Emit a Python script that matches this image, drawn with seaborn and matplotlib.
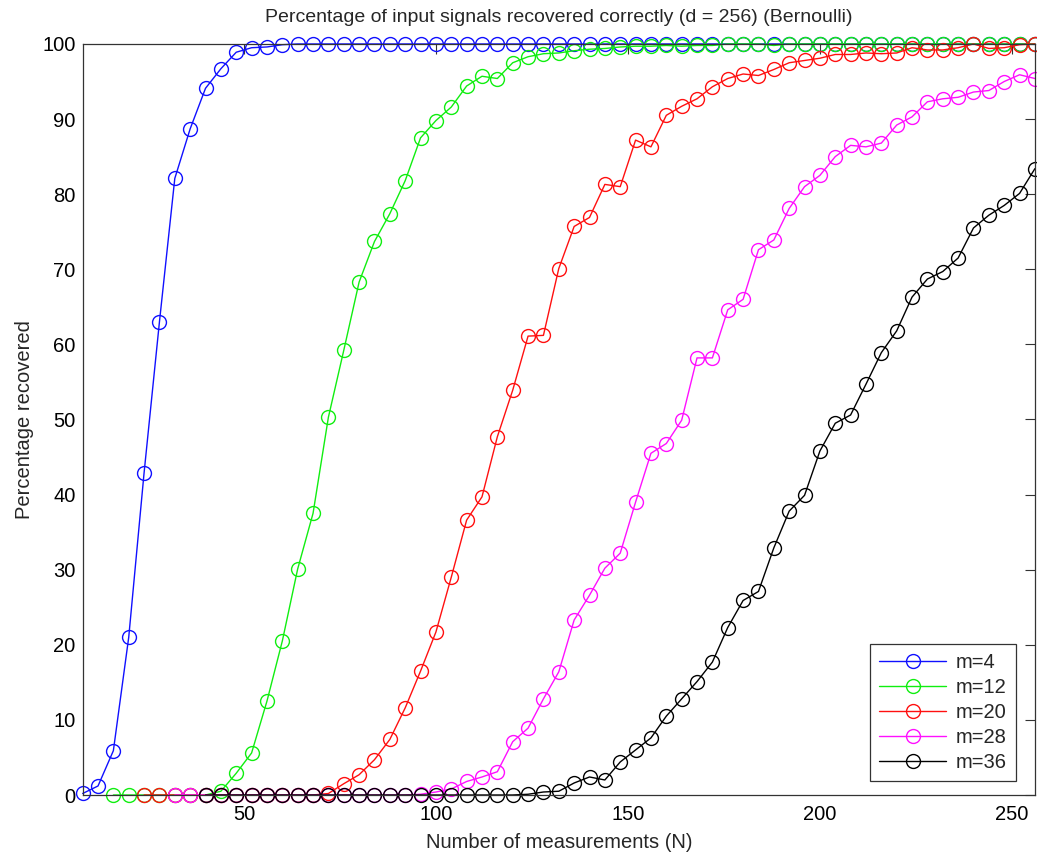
import numpy as np
import pandas as pd
import matplotlib
matplotlib.use("Agg")
import matplotlib.pyplot as plt
import seaborn as sns

# sparsity levels and their measurement grids (N runs from m+4 to 256 in steps of 4)
m_values = [4, 12, 20, 28, 36]
labels = ["m=4", "m=12", "m=20", "m=28", "m=36"]
colors = ["#1010ff", "#10ee10", "#ff1010", "#ff10ff", "#000000"]

pct_m4 = [0.2, 1.2, 5.9, 21.0, 42.9, 63.0, 82.1, 88.7, 94.1, 96.7, 98.9, 99.5, 99.6, 99.9,
          100, 100, 100, 100, 100, 100, 100, 100, 100, 100, 100, 100, 100, 100, 100, 100,
          100, 100, 100, 100, 100, 100, 100, 100, 100, 100, 100, 100, 100, 100, 100, 100,
          100, 100, 100, 100, 100, 100, 100, 100, 100, 100, 100, 100, 100, 100, 100, 100, 100]

pct_m12 = [0, 0, 0, 0, 0, 0, 0, 0.5, 2.9, 5.6, 12.5, 20.5, 30.1, 37.5, 50.3, 59.2, 68.3,
           73.7, 77.4, 81.8, 87.5, 89.8, 91.6, 94.4, 95.7, 95.4, 97.5, 98.3, 98.7, 98.8,
           99.1, 99.3, 99.4, 99.6, 99.7, 99.7, 99.8, 99.7, 99.8, 99.8, 100, 100, 100, 99.8,
           100, 100, 100, 100, 100, 100, 100, 100, 100, 100, 100, 100, 100, 100, 100, 100, 100]

pct_m20 = [0, 0, 0, 0, 0, 0, 0, 0, 0, 0, 0, 0, 0.2, 1.5, 2.7, 4.7, 7.4, 11.6, 16.5, 21.7,
           29.0, 36.6, 39.7, 47.7, 53.9, 61.1, 61.2, 70.1, 75.7, 76.9, 81.3, 81.0, 87.2,
           86.3, 90.5, 91.7, 92.7, 94.3, 95.4, 96.0, 95.8, 96.6, 97.5, 97.8, 98.1, 98.6,
           98.6, 98.8, 98.7, 98.8, 99.5, 99.2, 99.2, 99.5, 100, 99.4, 99.5, 99.9, 100]

pct_m28 = [0, 0, 0, 0, 0, 0, 0, 0, 0, 0, 0, 0, 0, 0, 0, 0, 0.1, 0.4, 0.8, 1.8, 2.4, 3.1,
           7.1, 8.9, 12.8, 16.4, 23.3, 26.6, 30.2, 32.2, 39.0, 45.5, 46.8, 49.9, 58.2, 58.2,
           64.6, 66.0, 72.6, 73.9, 78.1, 81.0, 82.5, 85.0, 86.5, 86.3, 86.8, 89.2, 90.3,
           92.3, 92.7, 92.9, 93.6, 93.8, 95.0, 95.9, 95.4]

pct_m36 = [0, 0, 0, 0, 0, 0, 0, 0, 0, 0, 0, 0, 0, 0, 0, 0, 0, 0, 0, 0, 0, 0.1, 0.4, 0.5,
           1.6, 2.4, 2.0, 4.4, 6.0, 7.6, 10.5, 12.8, 15.1, 17.7, 22.3, 25.9, 27.1, 32.9,
           37.8, 39.9, 45.8, 49.5, 50.6, 54.7, 58.9, 61.8, 66.3, 68.7, 69.7, 71.5, 75.5,
           77.2, 78.5, 80.1, 83.4]

series = [pct_m4, pct_m12, pct_m20, pct_m28, pct_m36]

frames = []
for m, lab, vals in zip(m_values, labels, series):
    n = np.arange(m + 4, 257, 4)
    frames.append(pd.DataFrame({"N": n, "pct": vals, "series": lab}))
df = pd.concat(frames, ignore_index=True)

sns.set_style("white")
plt.rcParams["font.family"] = ["Liberation Sans", "DejaVu Sans"]

fig = plt.figure(figsize=(10.37, 8.52), dpi=100)
ax = fig.add_axes([0.0797, 0.0669, 0.9183, 0.8815])

for lab, col in zip(labels, colors):
    sub = df[df["series"] == lab]
    sns.lineplot(data=sub, x="N", y="pct", ax=ax, color=col, label=lab,
                 marker="o", markersize=10, markerfacecolor="none",
                 markeredgecolor=col, markeredgewidth=1.0, linewidth=1.0,
                 estimator=None, sort=False, clip_on=False)

ax.set_xlim(8, 256)
ax.set_ylim(0, 100)
ax.set_xticks([50, 100, 150, 200, 250])
ax.set_yticks(range(0, 101, 10))
ax.tick_params(direction="in", length=7, width=0.8, top=True, right=True,
               labelsize=14.5, colors="#333333", labelcolor="black")
ax.tick_params(axis="x", pad=7)
ax.tick_params(axis="y", pad=5)
for s in ax.spines.values():
    s.set_visible(True)
    s.set_color("#333333")
    s.set_linewidth(0.9)

ax.set_title("Percentage of input signals recovered correctly (d = 256) (Bernoulli)",
             fontsize=14, pad=16)
ax.set_xlabel("Number of measurements (N)", fontsize=14.5, labelpad=7)
ax.set_ylabel("Percentage recovered", fontsize=14.5, labelpad=6)

leg = ax.legend(loc="lower right", bbox_to_anchor=(0.98, 0.0186), borderaxespad=0,
                fontsize=14.5, handlelength=3.3, labelspacing=0.3, fancybox=False,
                framealpha=1, edgecolor="#333333", borderpad=0.45, handletextpad=0.5)
leg.get_frame().set_linewidth(0.9)

fig.savefig("out.png", dpi=100)
